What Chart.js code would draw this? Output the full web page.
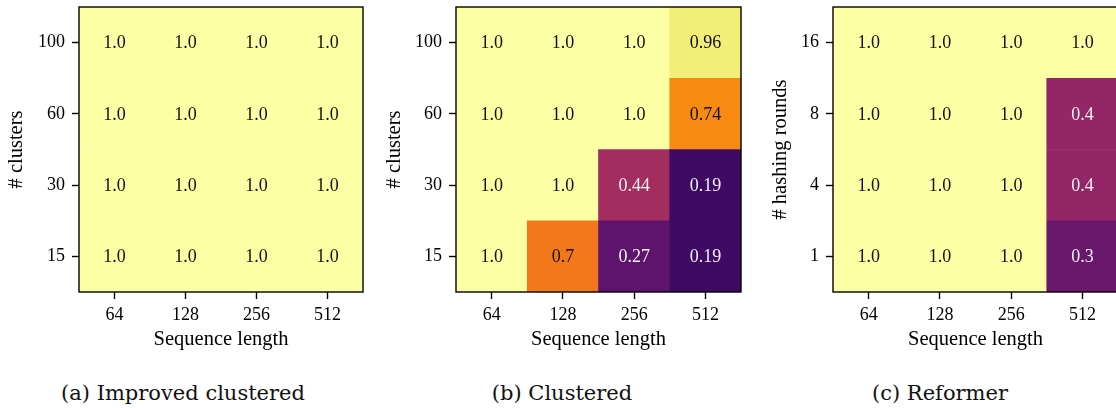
<!DOCTYPE html>
<html>
<head>
<meta charset="utf-8">
<script src="https://cdn.jsdelivr.net/npm/chart.js@4.4.1/dist/chart.umd.min.js"></script>
<style>
  html, body { margin: 0; padding: 0; background: #fff; overflow: hidden; width: 1116px; height: 408px; }
  .panel { position: absolute; top: 0; }
  .caption { position: absolute; top: 383px; font-family: 'DejaVu Serif', serif; font-size: 21px; line-height: 21px;
             color: #111; white-space: nowrap; transform: translateX(-50%); }
</style>
</head>
<body>
<div class="panel" style="left:0px"><canvas id="chartA" width="372" height="360"></canvas></div>
<div class="panel" style="left:380px"><canvas id="chartB" width="372" height="360"></canvas></div>
<div class="panel" style="left:760px"><canvas id="chartC" width="372" height="360"></canvas></div>
<div class="caption" style="left:183px">(a) Improved clustered</div>
<div class="caption" style="left:562px">(b) Clustered</div>
<div class="caption" style="left:940px">(c) Reformer</div>
<script>
// Column categories shared by all three heatmaps
const seqLengths = ['64', '128', '256', '512'];
// Row categories, listed bottom to top
const clusterCounts = ['15', '30', '60', '100'];
const hashingRounds = ['1', '4', '8', '16'];

// Accuracy per row (bottom to top); each row follows seqLengths
const improvedClustered = [
  [1.0, 1.0, 1.0, 1.0],
  [1.0, 1.0, 1.0, 1.0],
  [1.0, 1.0, 1.0, 1.0],
  [1.0, 1.0, 1.0, 1.0]
];
const clustered = [
  [1.0, 0.7, 0.27, 0.19],
  [1.0, 1.0, 0.44, 0.19],
  [1.0, 1.0, 1.0, 0.74],
  [1.0, 1.0, 1.0, 0.96]
];
const reformer = [
  [1.0, 1.0, 1.0, 0.3],
  [1.0, 1.0, 1.0, 0.4],
  [1.0, 1.0, 1.0, 0.4],
  [1.0, 1.0, 1.0, 1.0]
];

// Inferno colour map (0..1), piecewise linear between stops
const INFERNO = [
  [0.0, '#000004'], [0.1, '#160b39'], [0.2, '#420a68'], [0.3, '#6a176e'],
  [0.4, '#932667'], [0.5, '#bc3754'], [0.6, '#dd513a'], [0.7, '#f37819'],
  [0.8, '#fca50a'], [0.9, '#f6d746'], [0.95, '#efea6c'], [1.0, '#fcffa4']
];
function hexToRgb(h) {
  return [parseInt(h.slice(1, 3), 16), parseInt(h.slice(3, 5), 16), parseInt(h.slice(5, 7), 16)];
}
function inferno(v) {
  v = Math.max(0, Math.min(1, v));
  for (let i = 1; i < INFERNO.length; i++) {
    const [t1, c1] = INFERNO[i];
    if (v <= t1) {
      const [t0, c0] = INFERNO[i - 1];
      const f = (v - t0) / (t1 - t0);
      const a = hexToRgb(c0), b = hexToRgb(c1);
      const rgb = a.map((x, k) => Math.round(x + (b[k] - x) * f));
      return `rgb(${rgb[0]},${rgb[1]},${rgb[2]})`;
    }
  }
  return INFERNO[INFERNO.length - 1][1];
}
function fmt(v) {
  return Number.isInteger(v) ? v.toFixed(1) : String(v);
}

Chart.defaults.font.family = "'Liberation Serif', serif";
Chart.defaults.font.size = 18;
Chart.defaults.color = '#000';
const TITLE_FONT = { size: 20.5 };

// Draws the value of each cell at its centre
const cellLabels = {
  id: 'cellLabels',
  afterDatasetsDraw(chart) {
    const { ctx, scales: { x, y } } = chart;
    ctx.save();
    ctx.font = "18px 'Liberation Serif', serif";
    ctx.textAlign = 'center';
    ctx.textBaseline = 'middle';
    chart.data.datasets.forEach((ds, r) => {
      ds.values.forEach((v, c) => {
        ctx.fillStyle = v < 0.5 ? '#f2f2f2' : '#111';
        ctx.fillText(fmt(v), x.getPixelForValue(c), y.getPixelForValue(r) + 1);
      });
    });
    ctx.restore();
  }
};

// Box around the plotting area
const frame = {
  id: 'frame',
  afterDraw(chart) {
    const { ctx, chartArea: a } = chart;
    ctx.save();
    ctx.strokeStyle = '#000';
    ctx.lineWidth = 1.4;
    ctx.strokeRect(a.left, a.top, a.right - a.left, a.bottom - a.top);
    ctx.restore();
  }
};

function heatmap(canvasId, rows, rowLabels, yTitle, yWidth, padRight, yTitlePad) {
  const datasets = rows.map((vals, r) => ({
    data: vals.map(() => [r - 0.5, r + 0.5]),
    values: vals,
    backgroundColor: vals.map(inferno),
    borderWidth: 0,
    barPercentage: 1,
    categoryPercentage: 1,
    grouped: false
  }));
  const tickGrid = { drawOnChartArea: false, drawTicks: true, tickLength: 7, tickWidth: 1.4, tickColor: '#000' };
  return new Chart(document.getElementById(canvasId), {
    type: 'bar',
    data: { labels: seqLengths, datasets },
    options: {
      responsive: false,
      animation: false,
      layout: { padding: { top: 7, right: padRight, left: 0, bottom: 0 } },
      plugins: { legend: { display: false }, tooltip: { enabled: false } },
      scales: {
        x: {
          offset: true,
          grid: Object.assign({ offset: false }, tickGrid),
          border: { display: false },
          ticks: { padding: 5, maxRotation: 0, color: '#000' },
          title: { display: true, text: 'Sequence length', color: '#000', font: TITLE_FONT, padding: { top: 0, bottom: 7.7 } },
          afterFit(s) { s.height = 68; s.paddingLeft = 0; s.paddingRight = 0; }
        },
        y: {
          type: 'linear',
          min: -0.5,
          max: 3.5,
          grid: tickGrid,
          border: { display: false },
          afterBuildTicks(s) { s.ticks = rowLabels.map((_, i) => ({ value: i })); },
          ticks: { padding: 7, color: '#000', callback: (v) => rowLabels[v] },
          title: { display: true, text: yTitle, color: '#000', font: TITLE_FONT, padding: { top: yTitlePad, bottom: 0 } },
          afterFit(s) { s.width = yWidth; s.paddingTop = 0; s.paddingBottom = 0; }
        }
      }
    },
    plugins: [cellLabels, frame]
  });
}

heatmap('chartA', improvedClustered, clusterCounts, '# clusters', 79, 9, 4.7);
heatmap('chartB', clustered, clusterCounts, '# clusters', 76, 11, 2.7);
heatmap('chartC', reformer, hashingRounds, '# hashing rounds', 73, 14, 8.7);
</script>
</body>
</html>
